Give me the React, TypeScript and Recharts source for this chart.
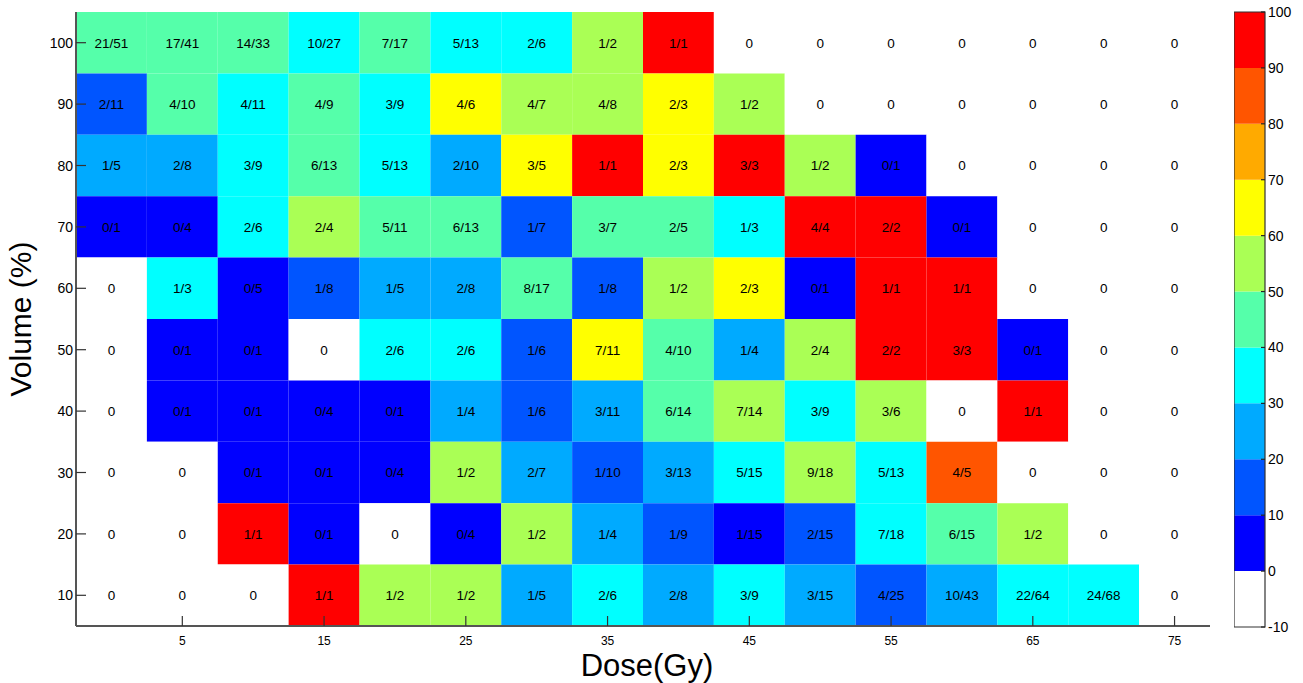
import React from 'react';
import { ScatterChart, XAxis, YAxis, ReferenceArea, Scatter } from 'recharts';

const FONT = '"Liberation Sans", Arial, Helvetica, sans-serif';

// Categories
const doses = [0, 5, 10, 15, 20, 25, 30, 35, 40, 45, 50, 55, 60, 65, 70, 75];
const volumes = [100, 90, 80, 70, 60, 50, 40, 30, 20, 10];

// Cell labels (events / patients) per volume row, one entry per dose column
const row100 = ['21/51', '17/41', '14/33', '10/27', '7/17', '5/13', '2/6', '1/2', '1/1', '0', '0', '0', '0', '0', '0', '0'];
const row90 = ['2/11', '4/10', '4/11', '4/9', '3/9', '4/6', '4/7', '4/8', '2/3', '1/2', '0', '0', '0', '0', '0', '0'];
const row80 = ['1/5', '2/8', '3/9', '6/13', '5/13', '2/10', '3/5', '1/1', '2/3', '3/3', '1/2', '0/1', '0', '0', '0', '0'];
const row70 = ['0/1', '0/4', '2/6', '2/4', '5/11', '6/13', '1/7', '3/7', '2/5', '1/3', '4/4', '2/2', '0/1', '0', '0', '0'];
const row60 = ['0', '1/3', '0/5', '1/8', '1/5', '2/8', '8/17', '1/8', '1/2', '2/3', '0/1', '1/1', '1/1', '0', '0', '0'];
const row50 = ['0', '0/1', '0/1', '0', '2/6', '2/6', '1/6', '7/11', '4/10', '1/4', '2/4', '2/2', '3/3', '0/1', '0', '0'];
const row40 = ['0', '0/1', '0/1', '0/4', '0/1', '1/4', '1/6', '3/11', '6/14', '7/14', '3/9', '3/6', '0', '1/1', '0', '0'];
const row30 = ['0', '0', '0/1', '0/1', '0/4', '1/2', '2/7', '1/10', '3/13', '5/15', '9/18', '5/13', '4/5', '0', '0', '0'];
const row20 = ['0', '0', '1/1', '0/1', '0', '0/4', '1/2', '1/4', '1/9', '1/15', '2/15', '7/18', '6/15', '1/2', '0', '0'];
const row10 = ['0', '0', '0', '1/1', '1/2', '1/2', '1/5', '2/6', '2/8', '3/9', '3/15', '4/25', '10/43', '22/64', '24/68', '0'];

const rows = [row100, row90, row80, row70, row60, row50, row40, row30, row20, row10];

// Tick labels
const xTicks = [5, 15, 25, 35, 45, 55, 65, 75];
const yTicks = [10, 20, 30, 40, 50, 60, 70, 80, 90, 100];

// Colour scale levels
const levelBounds = [-10, 0, 10, 20, 30, 40, 50, 60, 70, 80, 90, 100];
const levelColors = ['#FFFFFF', '#0000FF', '#0055FF', '#00AAFF', '#00FFFF', '#55FFAA', '#AAFF55', '#FFFF00', '#FFAA00', '#FF5500', '#FF0000'];

const colorFor = (label: string) => {
  if (!label.includes('/')) return levelColors[0];
  const [a, b] = label.split('/').map(Number);
  const pct = (a * 100) / b;
  const idx = Math.min(levelColors.length - 1, Math.floor(pct / 10) + 1);
  return levelColors[idx];
};

const cells = volumes.flatMap((v, i) => doses.map((d, j) => ({ dose: d, vol: v, label: rows[i][j] })));
const halfX = (doses[1] - doses[0]) / 2;
const halfY = (volumes[0] - volumes[1]) / 2;
const xDomain = [doses[0] - halfX, doses[doses.length - 1] + halfX];
const yDomain = [volumes[volumes.length - 1] - halfY, volumes[0] + halfY];

const barDomain = [levelBounds[0], levelBounds[levelBounds.length - 1]];
const barBins = levelColors.map((c, i) => ({ x: 0.5, y: (levelBounds[i] + levelBounds[i + 1]) / 2, lo: levelBounds[i], hi: levelBounds[i + 1], color: c }));

const AXIS_STROKE = '#555';

const BottomTick = (p: any) => (
  <g>
    <line x1={p.x} y1={p.y} x2={p.x} y2={p.y - 10} stroke="#333" strokeWidth={1.2} />
    <text x={p.x} y={p.y + 19} textAnchor="middle" fontSize={12} fontFamily={FONT} fill="#000">{p.payload.value}</text>
  </g>
);
const TopTick = (p: any) => (
  <line x1={p.x} y1={p.y} x2={p.x} y2={p.y + 10} stroke="#333" strokeWidth={1.2} />
);
const LeftTick = (p: any) => (
  <g>
    <line x1={p.x} y1={p.y} x2={p.x + 10} y2={p.y} stroke="#333" strokeWidth={1.2} />
    <text x={p.x - 3} y={p.y} dy="0.36em" textAnchor="end" fontSize={14} fontFamily={FONT} fill="#000">{p.payload.value}</text>
  </g>
);
const RightTick = (p: any) => (
  <line x1={p.x} y1={p.y} x2={p.x - 10} y2={p.y} stroke="#333" strokeWidth={1.2} />
);

const BarRightTick = (p: any) => (
  <g>
    <line x1={p.x} y1={p.y} x2={p.x - 4} y2={p.y} stroke="#222" strokeWidth={1.2} />
    <text x={p.x + 3} y={p.y} dy="0.36em" textAnchor="start" fontSize={14} fontFamily={FONT} fill="#000">{p.payload.value}</text>
  </g>
);
const BarLeftTick = (p: any) => (
  <line x1={p.x} y1={p.y} x2={p.x + 4} y2={p.y} stroke="#222" strokeWidth={1.2} />
);

const CellLabel = (p: any) => (
  <text x={p.cx} y={p.cy} dy="0.36em" textAnchor="middle" fontSize={13.5} fontFamily={FONT} fill="#000">
    {p.payload.label}
  </text>
);

const Nothing = () => <g />;

export default function App() {
  return (
    <div style={{ position: 'absolute', left: 0, top: 0, width: 1303, height: 683, background: '#fff', fontFamily: FONT }}>
      <div style={{ position: 'absolute', left: 0, top: 0 }}>
        <ScatterChart width={1230} height={683} margin={{ top: 12, right: 20, bottom: 27, left: 16 }}>
          <XAxis xAxisId="b" orientation="bottom" type="number" dataKey="dose" domain={xDomain} ticks={xTicks} interval={0}
            allowDataOverflow height={30} tickSize={0} tickMargin={0} tickLine={false}
            axisLine={{ stroke: AXIS_STROKE, strokeWidth: 2 }} tick={<BottomTick />} />
          <XAxis xAxisId="t" orientation="top" type="number" dataKey="dose" domain={xDomain} ticks={xTicks} interval={0}
            allowDataOverflow height={0} tickSize={0} tickMargin={0} tickLine={false}
            axisLine={{ stroke: AXIS_STROKE, strokeWidth: 2 }} tick={<TopTick />} />
          <YAxis yAxisId="l" orientation="left" type="number" dataKey="vol" domain={yDomain} ticks={yTicks} interval={0}
            allowDataOverflow width={60} tickSize={0} tickMargin={0} tickLine={false}
            axisLine={{ stroke: AXIS_STROKE, strokeWidth: 2 }} tick={<LeftTick />} />
          <YAxis yAxisId="r" orientation="right" type="number" dataKey="vol" domain={yDomain} ticks={yTicks} interval={0}
            allowDataOverflow width={0} tickSize={0} tickMargin={0} tickLine={false}
            axisLine={{ stroke: AXIS_STROKE, strokeWidth: 2 }} tick={<RightTick />} />
          {cells.map((c, i) => (
            <ReferenceArea key={i} xAxisId="b" yAxisId="l" x1={c.dose - halfX} x2={c.dose + halfX}
              y1={c.vol - halfY} y2={c.vol + halfY} fill={colorFor(c.label)} fillOpacity={1} stroke="none" ifOverflow="visible" />
          ))}
          <Scatter xAxisId="b" yAxisId="l" data={cells} isAnimationActive={false} shape={<CellLabel />} />
        </ScatterChart>
      </div>
      <div style={{ position: 'absolute', left: 1234, top: 0 }}>
        <ScatterChart width={69} height={683} margin={{ top: 12, right: 0, bottom: 56, left: 0 }}>
          <XAxis xAxisId="cx" type="number" dataKey="x" domain={[0, 1]} hide allowDataOverflow />
          <YAxis yAxisId="cl" orientation="left" type="number" dataKey="y" domain={barDomain}
            ticks={levelBounds} interval={0} allowDataOverflow width={0} tickSize={0} tickMargin={0} tickLine={false}
            axisLine={false} tick={<BarLeftTick />} />
          <YAxis yAxisId="cr" orientation="right" type="number" dataKey="y" domain={barDomain}
            ticks={levelBounds} interval={0} allowDataOverflow width={38} tickSize={0} tickMargin={0} tickLine={false}
            axisLine={false} tick={<BarRightTick />} />
          {barBins.map((b, i) => (
            <ReferenceArea key={i} xAxisId="cx" yAxisId="cr" x1={0} x2={1} y1={b.lo} y2={b.hi}
              fill={b.color} fillOpacity={1} stroke="none" ifOverflow="visible" />
          ))}
          <ReferenceArea xAxisId="cx" yAxisId="cr" x1={0} x2={1} y1={barDomain[0]} y2={barDomain[1]}
            fill="none" stroke="#333" strokeWidth={1.2} ifOverflow="visible" />
          <Scatter xAxisId="cx" yAxisId="cr" data={barBins} isAnimationActive={false} shape={<Nothing />} />
          <Scatter xAxisId="cx" yAxisId="cl" data={barBins} isAnimationActive={false} shape={<Nothing />} />
        </ScatterChart>
      </div>
      <svg width={1303} height={683} style={{ position: 'absolute', left: 0, top: 0, pointerEvents: 'none' }}>
        <text x={647} y={676} textAnchor="middle" fontSize={31} fontFamily={FONT} fill="#000">Dose(Gy)</text>
        <text x={31} y={319} textAnchor="middle" fontSize={30} fontFamily={FONT} fill="#000" transform="rotate(-90 31 319)">Volume (%)</text>
      </svg>
    </div>
  );
}
